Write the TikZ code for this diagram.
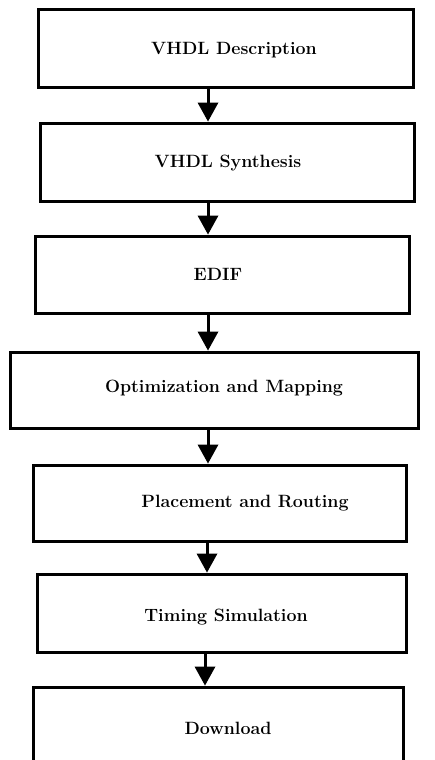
\documentclass[tikz,border=0pt]{standalone}
\usepackage{fontspec}
\usetikzlibrary{arrows.meta}
\begin{document}
\begin{tikzpicture}[x=1pt,y=-1pt,
  stepbox/.style={draw=black,line width=3pt,rectangle,inner sep=0pt,fill=white},
  lbl/.style={font=\fontsize{17.8}{20}\selectfont\bfseries,inner sep=0pt,anchor=center},
  arr/.style={line width=3pt,-{Triangle[width=21pt,length=19pt,line width=0pt]}}]
\useasboundingbox (0,0) rectangle (434,760);
\fill[white] (0,0) rectangle (434,760);
% boxes
\node[stepbox,minimum width=375pt,minimum height=77pt] (b1) at (225.5,48.5) {};
\node[stepbox,minimum width=374pt,minimum height=78pt] (b2) at (227,162) {};
\node[stepbox,minimum width=374pt,minimum height=77pt] (b3) at (222,274.5) {};
\node[stepbox,minimum width=408pt,minimum height=76pt] (b4) at (214,390) {};
\node[stepbox,minimum width=373pt,minimum height=76pt] (b5) at (219.5,503) {};
\node[stepbox,minimum width=369pt,minimum height=78pt] (b6) at (221.5,613) {};
\node[stepbox,minimum width=370pt,minimum height=90pt] (b7) at (218,732) {};
% labels
\node[lbl] (t1) at (234,50) {VHDL Description};
\node[lbl] (t2) at (228,163) {VHDL Synthesis};
\node[lbl] (t3) at (218,274) {EDIF};
\node[lbl] (t4) at (224,388) {Optimization and Mapping};
\node[lbl] (t5) at (245,503) {Placement and Routing};
\node[lbl] (t6) at (226,617) {Timing Simulation};
\node[lbl] (t7) at (228,728) {Download};
% arrow columns
\coordinate (a1) at (208,0);
\coordinate (a2) at (208,0);
\coordinate (a3) at (208,0);
\coordinate (a4) at (208,0);
\coordinate (a5) at (207,0);
\coordinate (a6) at (205,0);
\draw[arr] (b1.south -| a1) -- (b2.north -| a1);
\draw[arr] (b2.south -| a2) -- (b3.north -| a2);
\draw[arr] (b3.south -| a3) -- (b4.north -| a3);
\draw[arr] (b4.south -| a4) -- (b5.north -| a4);
\draw[arr] (b5.south -| a5) -- (b6.north -| a5);
\draw[arr] (b6.south -| a6) -- (b7.north -| a6);
\end{tikzpicture}
\end{document}
